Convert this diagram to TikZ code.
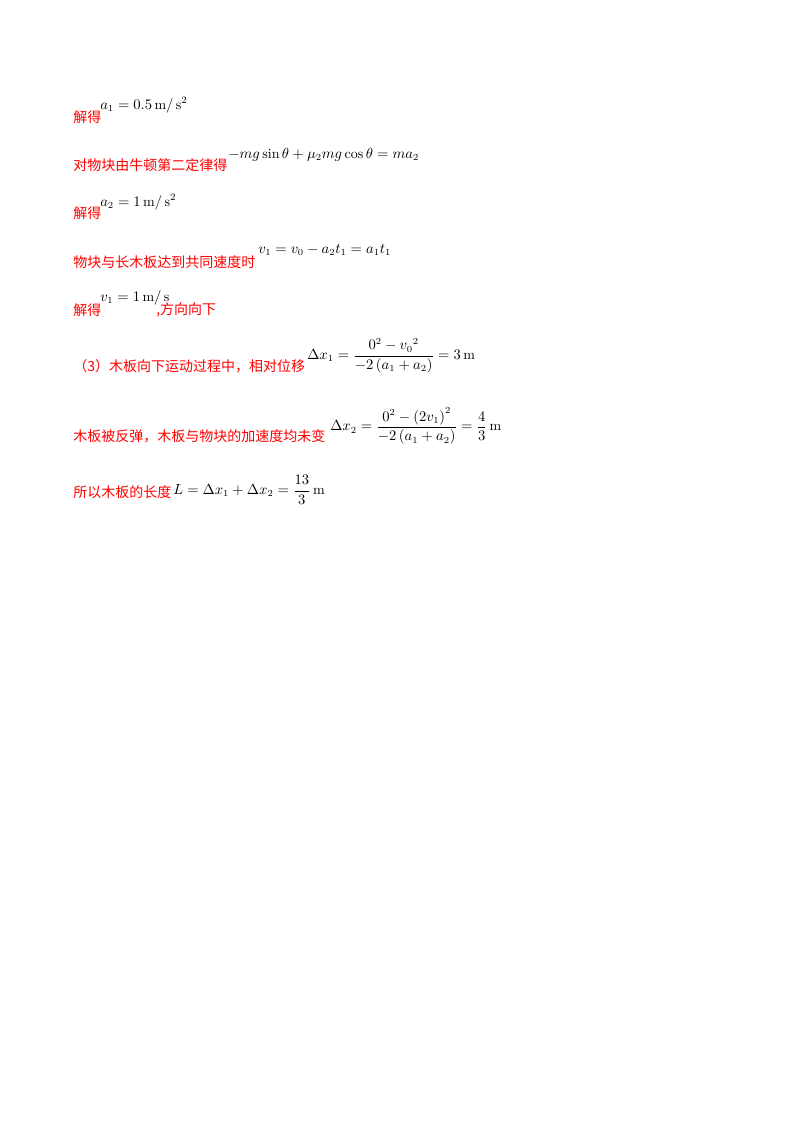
\documentclass[tikz,border=0pt]{standalone}
\usepackage{amsmath}
\usepackage{fontspec}
\newfontfamily\cjk{Noto Sans CJK SC}
\begin{document}
\begin{tikzpicture}[x=0.75pt,y=-0.75pt,
  zh/.style={anchor=west,inner sep=0pt,text=red,font=\cjk\fontsize{10.5}{12}\selectfont},
  mth/.style={anchor=west,inner sep=0pt,font=\fontsize{10.5}{12}\selectfont}]
\useasboundingbox (0,0) rectangle (800,1132);
\node[zh] (t1) at (73,117) {解得};
\node[mth] (m1) at (100,105) {$a_1=0.5\,\mathrm{m/\,s^2}$};
\node[zh] (t2) at (73,165) {对物块由牛顿第二定律得};
\node[mth] (m2) at (228,155) {$-mg\sin\theta+\mu_2 mg\cos\theta=ma_2$};
\node[zh] (t3) at (73,213) {解得};
\node[mth] (m3) at (100,202) {$a_2=1\,\mathrm{m/\,s^2}$};
\node[zh] (t4) at (73,262) {物块与长木板达到共同速度时};
\node[mth] (m4) at (258,250) {$v_1=v_0-a_2t_1=a_1t_1$};
\node[zh] (t5) at (73,310) {解得};
\node[mth] (m5) at (100,298) {$v_1=1\,\mathrm{m/\,s}$};
\node[zh] (t5b) at (156,310) {,方向向下};
\node[zh] (t6) at (73,366) {（3）木板向下运动过程中，相对位移};
\node[mth] (m6) at (307,356) {$\Delta x_1=\dfrac{0^2-{v_0}^2}{-2\left(a_1+a_2\right)}=3\,\mathrm{m}$};
\node[zh] (t7) at (73,436) {木板被反弹，木板与物块的加速度均未变};
\node[mth] (m7) at (330,426) {$\Delta x_2=\dfrac{0^2-\left(2v_1\right)^2}{-2\left(a_1+a_2\right)}=\dfrac{4}{3}\,\mathrm{m}$};
\node[zh] (t8) at (73,492) {所以木板的长度};
\node[mth] (m8) at (173,490) {$L=\Delta x_1+\Delta x_2=\dfrac{13}{3}\,\mathrm{m}$};
\end{tikzpicture}
\end{document}
